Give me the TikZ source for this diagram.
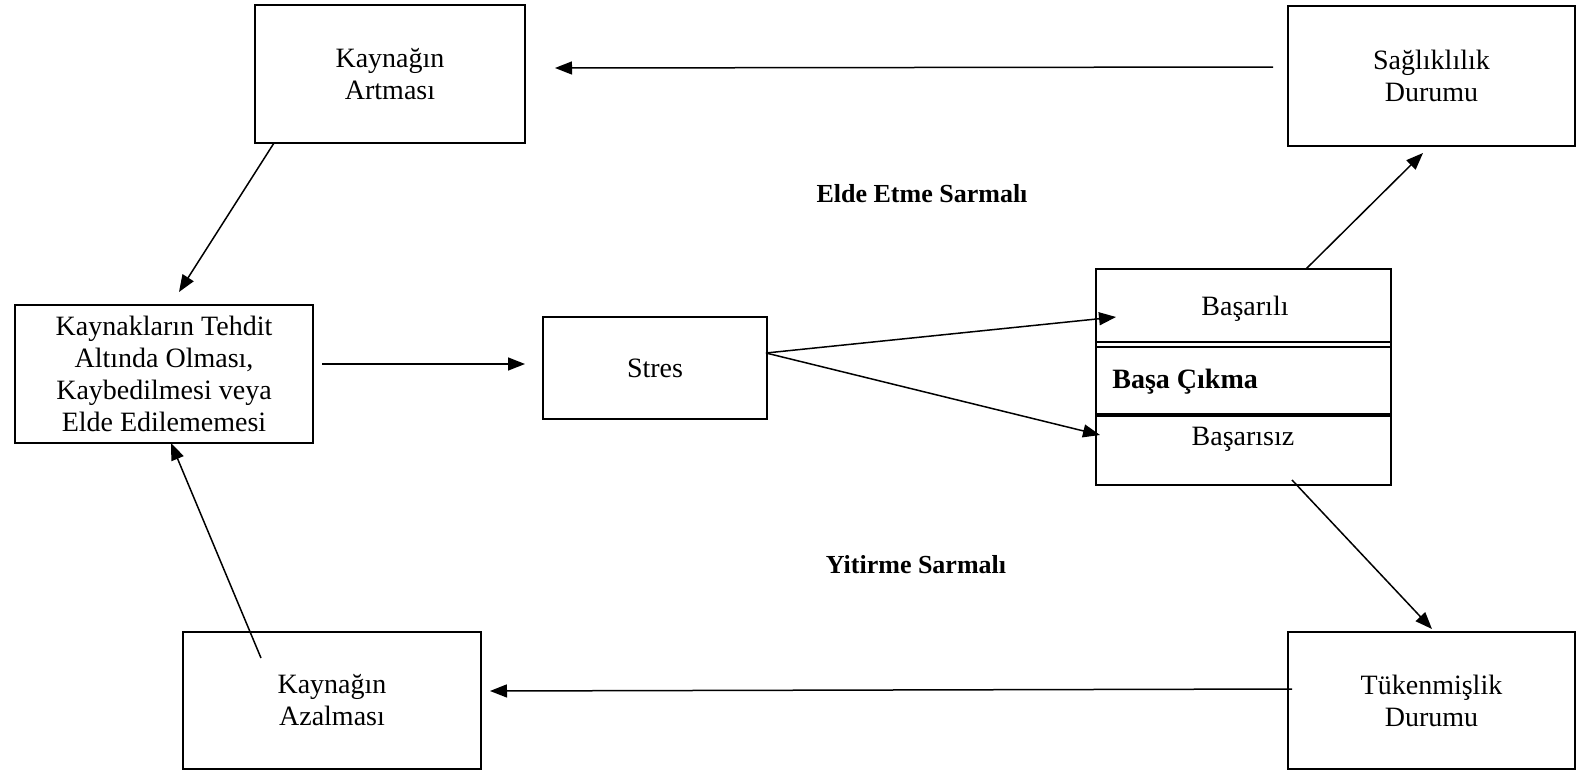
\documentclass[tikz,border=0pt]{standalone}
\usepackage{fontspec}
\setmainfont{Liberation Serif}
\usetikzlibrary{arrows.meta}
\begin{document}
\begin{tikzpicture}[x=0.5pt,y=-0.5pt,
  box/.style={draw,line width=1pt,rectangle,inner sep=0pt,align=center,
    font=\fontsize{14pt}{16pt}\selectfont},
  txt/.style={inner sep=0pt,align=center,font=\fontsize{14pt}{16pt}\selectfont},
  lbl/.style={inner sep=0pt,font=\fontsize{13pt}{15pt}\selectfont\bfseries},
  conn/.style={line width=0.75pt,-{Triangle[length=8.5pt,width=6.5pt]}}]
\useasboundingbox (0,0) rectangle (1576,771);
% boxes
\node[box,minimum width=135pt,minimum height=69pt] (A) at (390,74) {Kaynağın\\Artması};
\node[box,minimum width=143.5pt,minimum height=70pt] (S) at (1431.5,76) {Sağlıklılık\\Durumu};
\node[box,minimum width=149pt,minimum height=69pt] (L) at (164,374) {Kaynakların Tehdit\\Altında Olması,\\Kaybedilmesi veya\\Elde Edilememesi};
\node[box,minimum width=112pt,minimum height=51pt] (St) at (655,368) {Stres};
\node[box,minimum width=147.5pt,minimum height=108pt] (B) at (1243.5,377) {};
\node[box,minimum width=143.5pt,minimum height=68.5pt] (T) at (1431.5,700.5) {Tükenmişlik\\Durumu};
\node[box,minimum width=149pt,minimum height=68.5pt] (Z) at (332,700.5) {Kaynağın\\Azalması};
% coping box internals
\draw[line width=1pt] (B.west |- 0,342) -- (B.east |- 0,342);
\draw[line width=1pt] (B.west |- 0,346.5) -- (B.east |- 0,346.5);
\draw[line width=1.6pt] (B.west |- 0,415) -- (B.east |- 0,415);
\node[txt] (B1) at (1245,309) {Başarılı};
\node[txt,anchor=west,font=\fontsize{14pt}{16pt}\selectfont\bfseries] (B2) at (1112,382) {Başa Çıkma};
\node[txt] (B3) at (1243,439) {Başarısız};
% labels
\node[lbl] (E) at (922,194) {Elde Etme Sarmalı};
\node[lbl] (Y) at (916,565) {Yitirme Sarmalı};
% connector end points
\coordinate (s1) at (1273,67);  \coordinate (e1) at (555,68);
\coordinate (s2) at (274,143);  \coordinate (e2) at (179,292);
\coordinate (s3) at (322,364);  \coordinate (e3) at (525,364);
\coordinate (s4) at (766,353);  \coordinate (e4) at (1116,317);
\coordinate (e5) at (1100,435);
\coordinate (s6) at (1306,269); \coordinate (e6) at (1423,153);
\coordinate (s7) at (1292,480); \coordinate (e7) at (1432,629);
\coordinate (s8) at (1292,689); \coordinate (e8) at (490,691);
\coordinate (s9) at (261,658);  \coordinate (e9) at (171,443);
\draw[conn] (s1) -- (e1);
\draw[conn] (s2) -- (e2);
\draw[conn] (s3) -- (e3);
\draw[conn] (s4) -- (e4);
\draw[conn] (s4) -- (e5);
\draw[conn] (s6) -- (e6);
\draw[conn] (s7) -- (e7);
\draw[conn] (s8) -- (e8);
\draw[conn] (s9) -- (e9);
\end{tikzpicture}
\end{document}
